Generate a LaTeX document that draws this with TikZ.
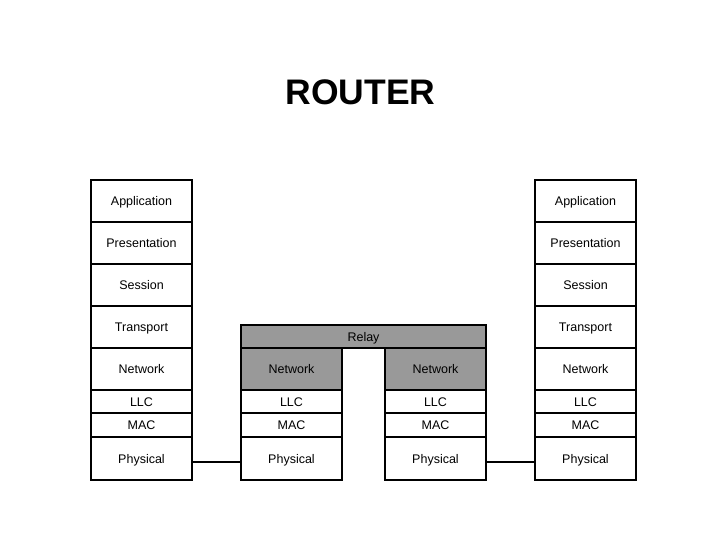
\documentclass[tikz,border=0pt]{standalone}
\usepackage{fontspec}
\setmainfont{Liberation Sans}
\definecolor{relaygray}{RGB}{153,153,153}
\tikzset{
  layer/.style={draw=black, line width=2pt, inner sep=0pt, minimum width=101pt,
    font=\fontsize{12.5}{14}\selectfont, text height=9pt, text depth=0pt},
  hrow/.style={minimum height=42pt},
  srow/.style={minimum height=23.5pt},
  prow/.style={minimum height=43pt},
  shaded/.style={fill=relaygray},
  link/.style={draw=black, line width=2pt}
}
\begin{document}
\begin{tikzpicture}[x=1pt,y=-1pt]
\useasboundingbox (0,0) rectangle (720,540);
\node[font=\fontsize{35.5}{40}\selectfont\bfseries] (title) at (360.5,92) {ROUTER};
% left host
\node[layer,hrow] (lapp) at (141.5,201) {Application};
\node[layer,hrow] (lpres) at (141.5,243) {Presentation};
\node[layer,hrow] (lsess) at (141.5,285) {Session};
\node[layer,hrow] (ltrans) at (141.5,327) {Transport};
\node[layer,hrow] (lnet) at (141.5,369) {Network};
\node[layer,srow] (lllc) at (141.5,401.5) {LLC};
\node[layer,srow] (lmac) at (141.5,425) {MAC};
\node[layer,prow] (lphys) at (141.5,458.5) {Physical};
% right host
\node[layer,hrow] (rapp) at (585.5,201) {Application};
\node[layer,hrow] (rpres) at (585.5,243) {Presentation};
\node[layer,hrow] (rsess) at (585.5,285) {Session};
\node[layer,hrow] (rtrans) at (585.5,327) {Transport};
\node[layer,hrow] (rnet) at (585.5,369) {Network};
\node[layer,srow] (rllc) at (585.5,401.5) {LLC};
\node[layer,srow] (rmac) at (585.5,425) {MAC};
\node[layer,prow] (rphys) at (585.5,458.5) {Physical};
% router
\node[layer,shaded,minimum width=245pt,minimum height=23pt] (relay) at (363.5,336.5) {Relay};
\node[layer,hrow,shaded] (mlnet) at (291.5,369) {Network};
\node[layer,srow] (mlllc) at (291.5,401.5) {LLC};
\node[layer,srow] (mlmac) at (291.5,425) {MAC};
\node[layer,prow] (mlphys) at (291.5,458.5) {Physical};
\node[layer,hrow,shaded] (mrnet) at (435.5,369) {Network};
\node[layer,srow] (mrllc) at (435.5,401.5) {LLC};
\node[layer,srow] (mrmac) at (435.5,425) {MAC};
\node[layer,prow] (mrphys) at (435.5,458.5) {Physical};
% links
\draw[link] ([yshift=-3.5pt]lphys.east) -- ([yshift=-3.5pt]mlphys.west);
\draw[link] ([yshift=-3.5pt]mrphys.east) -- ([yshift=-3.5pt]rphys.west);
\end{tikzpicture}
\end{document}
